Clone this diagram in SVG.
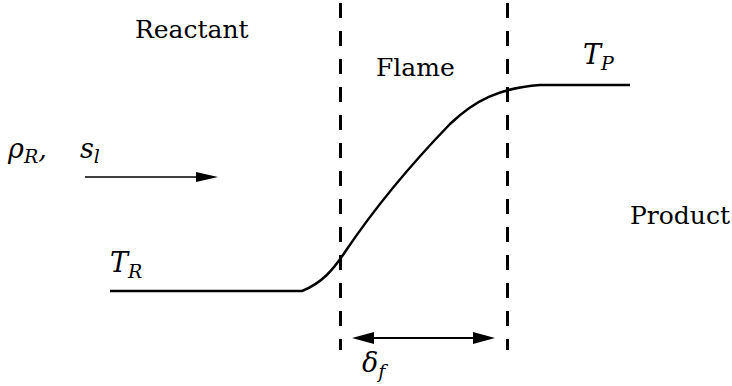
<svg xmlns="http://www.w3.org/2000/svg" width="732" height="386" viewBox="0 0 732 386">
  <rect width="732" height="386" fill="#fff"/>

  <g id="flame-boundaries" stroke="#000" stroke-width="3" stroke-dasharray="15 13" fill="none">
    <line x1="340.5" y1="3" x2="340.5" y2="350"/>
    <line x1="507.5" y1="3" x2="507.5" y2="350"/>
  </g>

  <g id="temperature-profile">
    <path stroke="#000" stroke-width="2.5" fill="none" d="M110,291 L302,291 C322,283 333,270 345,252 C380,200 420,155 450,124 C475,100 500,88 540,85 L630,85"/>
  </g>

  <g id="connectors">
    <line x1="85" y1="177" x2="200" y2="177" stroke="#000" stroke-width="1.3"/>
    <polygon points="196,172 218,177 196,182" fill="#000"/>
    <line x1="370" y1="338" x2="477" y2="338" stroke="#000" stroke-width="2"/>
    <polygon points="374,332 352,338 374,344" fill="#000"/>
    <polygon points="473,332 495,338 473,344" fill="#000"/>
  </g>

  <text x="135" y="38" font-family="DejaVu Serif" font-size="25">Reactant</text>
  <text x="376" y="76" font-family="DejaVu Serif" font-size="25">Flame</text>
  <text x="630" y="224" font-family="DejaVu Serif" font-size="25">Product</text>
  <text x="583" y="64" font-family="DejaVu Serif" font-style="italic" font-size="27">T<tspan font-size="19" dy="6">P</tspan></text>
  <text x="110" y="272" font-family="DejaVu Serif" font-style="italic" font-size="27">T<tspan font-size="19" dy="6">R</tspan></text>
  <text x="8" y="158" font-family="DejaVu Serif" font-style="italic" font-size="27">ρ<tspan font-size="19" dy="5">R</tspan><tspan dy="-5">,</tspan><tspan x="80">s</tspan><tspan font-size="19" dy="5">l</tspan></text>
  <text x="362" y="372" font-family="DejaVu Serif" font-style="italic" font-size="27">δ<tspan font-size="19" dy="6">f</tspan></text>
</svg>
